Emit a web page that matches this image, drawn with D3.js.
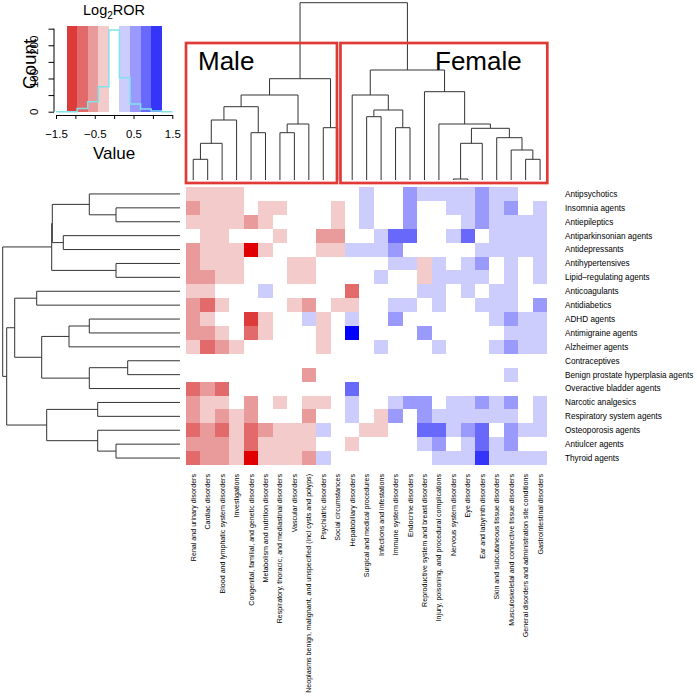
<!DOCTYPE html>
<html>
<head>
<meta charset="utf-8">
<script src="https://cdn.jsdelivr.net/npm/d3@7"></script>
<style>
  body { margin: 0; background: #fff; }
  svg { display: block; }
  text { font-family: "Liberation Sans", Arial, Helvetica, sans-serif; fill: #000; }
</style>
</head>
<body>
<div id="chart"></div>
<script>
// rows (drug classes) in dendrogram order
const rowLabels = [
  "Antipsychotics", "Insomnia agents", "Antiepileptics", "Antiparkinsonian agents",
  "Antidepressants", "Antihypertensives", "Lipid\u2013regulating agents", "Anticoagulants",
  "Antidiabetics", "ADHD agents", "Antimigraine agents", "Alzheimer agents",
  "Contraceptives", "Benign prostate hyperplasia agents", "Overactive bladder agents",
  "Narcotic analgesics", "Respiratory system agents", "Osteoporosis agents",
  "Antiulcer agents", "Thyroid agents"
];

// columns (adverse event SOCs) in dendrogram order
const colLabels = [
  "Renal and urinary disorders", "Cardiac disorders", "Blood and lymphatic system disorders",
  "Investigations", "Congenital, familial, and genetic disorders",
  "Metabolism and nutrition disorders", "Respiratory, thoracic, and mediastinal disorders",
  "Vascular disorders", "Neoplasms benign, malignant, and unspecified (incl cysts and polyps)",
  "Psychiatric disorders", "Social circumstances", "Hepatobiliary disorders",
  "Surgical and medical procedures", "Infections and infestations", "Immune system disorders",
  "Endocrine disorders", "Reproductive system and breast disorders",
  "Injury, poisoning, and procedural complications", "Nervous system disorders",
  "Eye disorders", "Ear and labyrinth disorders", "Skin and subcutaneous tissue disorders",
  "Musculoskeletal and connective tissue disorders",
  "General disorders and administration site conditions", "Gastrointestinal disorders"
];

// log2 ROR, one array per row
const ror = [
  [-0.3,-0.3,-0.3,-0.3,0,0,0,0,0,0,0,0,0.3, 0,0,0.55,0.3,0.3,0.3,0.3,0.55,0.3,0.3,0,0],
  [-0.55,-0.3,-0.3,-0.3,0,-0.3,-0.3,0,0,0,-0.3,0,0.3, 0,0,0.55,0,0,0.3,0.3,0.55,0.3,0.55,0,0.3],
  [-0.3,-0.3,-0.3,-0.3,-0.55,-0.3,0,0,0,0,-0.3,0,0.3, 0,0,0.55,0,0,0,0.3,0.55,0.3,0.3,0.3,0.3],
  [0,-0.3,-0.3,0,0,0,-0.3,0,0,-0.55,-0.55,0,0, 0.3,0.8,0.8,0,0,0.3,0.8,0,0.3,0.3,0.3,0.3],
  [-0.55,-0.3,-0.3,-0.3,-1.4,-0.3,0,0,0,-0.3,-0.3,0.3,0.3, 0.3,0.55,0,0,0,0,0,0.3,0.3,0.3,0.3,0.3],
  [-0.55,-0.3,-0.3,-0.3,0,0,0,-0.3,-0.3,0,0,0,0, 0,0.3,0.3,-0.3,0.3,0,0.3,0.55,0,0.3,0,0.3],
  [-0.55,-0.55,-0.3,-0.3,0,0,0,-0.3,-0.3,0,0,0,0, 0.3,0,0,-0.3,0.3,0.3,0.3,0.3,0,0.3,0,0.3],
  [-0.3,-0.3,0,0,0,0.3,0,0,0,0,0,-0.8,0, 0,0,0,0.3,0.3,0,0.3,0,0.3,0.3,0,0],
  [-0.55,-0.8,-0.3,0,0,0,0,-0.3,-0.55,0,-0.3,-0.3,0, 0,0.3,0.3,0,0.3,0,0,0.3,0.3,0.3,0,0.55],
  [-0.55,-0.3,0,0,-1.1,-0.3,0,0,0.3,-0.3,0,0.3,0, 0,0.55,0,0,0,0,0,0,0.3,0.55,0.3,0.3],
  [-0.55,-0.55,-0.3,0,-0.8,-0.3,0,0,0,-0.3,0,1.4,0, 0,0,0,0.55,0,0,0,0,0,0.3,0.3,0.3],
  [-0.3,-0.8,-0.55,-0.3,0,0,0,0,0,-0.3,0,0,0, 0.3,0,0,0,0.3,0,0,0,0.3,0.55,0.3,0.3],
  [0,0,0,0,0,0,0,0,0,0,0,0,0, 0,0,0,0,0,0,0,0,0,0,0,0],
  [0,0,0,0,0,0,0,0,-0.55,0,0,0,0, 0,0,0,0,0,0,0,0,0,0.3,0,0],
  [-0.8,-0.55,-0.8,0,0,0,0,0,0,0,0,0.8,0, 0,0,0,0,0,0,0,0,0,0,0,0],
  [-0.55,-0.3,-0.3,0,-0.55,0,-0.3,0,-0.3,-0.3,0,0.3,0, 0,0.3,0.55,0.55,0,0.3,0.3,0.55,0.3,0.55,0,0.3],
  [-0.55,-0.3,-0.55,-0.3,-0.55,0,0,0,-0.55,0,0,0.3,0, -0.3,0.55,0,0.55,0.3,0.3,0.3,0.3,0.3,0.3,0,0.3],
  [-0.8,-0.55,-0.8,-0.3,-0.8,-0.55,-0.3,-0.3,-0.3,0.3,0,0,-0.3, -0.3,0,0,0.8,0.8,0.3,0.55,0.8,0,0.55,0.3,0.3],
  [-0.55,-0.55,-0.55,-0.3,-0.8,-0.3,-0.3,-0.3,-0.3,0,0,-0.3,0, 0,0,0,0.3,0.55,0,0.3,0.8,0.3,0.55,0,0],
  [-0.8,-0.55,-0.55,-0.3,-1.4,-0.3,-0.3,-0.3,-0.55,0.3,0,0,0, 0,0,0,0,0.3,0.3,0.3,1.1,0.3,0.3,0.3,0.3]
];

// hclust style merges: [a, b, height], negative = leaf (1-based), positive = earlier merge
const rowMerges = [
  [-2,-3,0.64], [-1,1,0.907], [-4,-5,1.167], [2,3,1.277], [-6,-7,0.64], [4,5,1.283],
  [-8,-9,1.433], [-10,-11,0.907], [8,-12,1.11], [-13,-14,0.523], [10,-15,0.907],
  [9,11,1.383], [7,12,1.653], [-16,-17,0.823], [-19,-20,0.64], [-18,15,0.823],
  [14,16,1.333], [13,17,1.733], [6,18,1.773]
];
const colMerges = [
  [-1,-2,0.207], [1,-3,0.367], [2,-4,0.60], [-5,-6,0.473], [3,4,0.733], [-7,-8,0.473],
  [6,-9,0.56], [5,7,0.85], [-10,-11,0.523], [8,9,1.013], [-13,-14,0.633], [-15,-16,0.523],
  [11,12,0.70], [-12,13,0.85], [-19,-20,0.01], [15,-21,0.367], [-24,-25,0.207],
  [-23,17,0.30], [-22,18,0.423], [16,19,0.517], [-18,20,0.56], [-17,21,0.883],
  [14,22,1.10], [10,23,1.773]
];

// colour key
const keyBreaks = [-1.5,-1.227,-0.955,-0.682,-0.409,-0.136,0.136,0.409,0.682,0.955,1.227,1.5];
const keyColors = ["#ffffff","#dd3a3a","#e26a6a","#e99a9a","#f3cbcb","#ffffff",
                   "#cdcdfd","#9a9afc","#6868fb","#3535f9","#ffffff"];
const histCounts = [0,0,10,30,75,246,102,23,8,2,0];
const cellColors = ["#e00000","#dd3a3a","#e26a6a","#e99a9a","#f3cbcb","#ffffff",
                    "#cdcdfd","#9a9afc","#6868fb","#3535f9","#0000ff"];

const W = 697, H = 697;
const svg = d3.select("#chart").append("svg").attr("width", W).attr("height", H);

const x = d3.scaleBand().domain(d3.range(colLabels.length)).range([186, 547.3]);
const y = d3.scaleBand().domain(d3.range(rowLabels.length)).range([187, 465]);
const color = d3.scaleThreshold().domain(keyBreaks.slice(1, -1)).range(cellColors);

// heatmap cells
svg.append("g")
  .selectAll("g")
  .data(ror)
  .join("g")
  .selectAll("rect")
  .data((row, i) => row.map((v, j) => ({i, j, v})))
  .join("rect")
    .attr("x", d => x(d.j))
    .attr("y", d => y(d.i))
    .attr("width", x.bandwidth())
    .attr("height", y.bandwidth())
    .attr("fill", d => color(d.v))
    .attr("shape-rendering", "crispEdges");

// row labels
svg.append("g")
  .selectAll("text")
  .data(rowLabels)
  .join("text")
    .attr("x", 565)
    .attr("y", (d, i) => y(i) + y.bandwidth() / 2)
    .attr("dy", "0.35em")
    .style("font-size", "8.2px")
    .text(d => d);

// column labels
svg.append("g")
  .selectAll("text")
  .data(colLabels)
  .join("text")
    .attr("transform", (d, i) => `translate(${x(i) + x.bandwidth() / 2},474) rotate(-90)`)
    .attr("text-anchor", "end")
    .attr("dy", "0.35em")
    .style("font-size", "7.1px")
    .text(d => d);

// dendrogram segments: [pos1, h1, pos2, h2]
function dendroSegments(merges, pos) {
  const nodes = [];
  const segs = [];
  const get = k => k < 0 ? {p: pos(-k - 1), h: 0} : nodes[k - 1];
  merges.forEach(([a, b, h]) => {
    const A = get(a), B = get(b);
    segs.push([A.p, A.h, A.p, h], [B.p, B.h, B.p, h], [A.p, h, B.p, h]);
    nodes.push({p: (A.p + B.p) / 2, h});
  });
  return segs;
}

const hMax = 1.773;
const colH = d3.scaleLinear().domain([0, hMax]).range([180, 2.7]);
const rowH = d3.scaleLinear().domain([0, hMax]).range([180, 2.7]);

svg.append("g")
  .selectAll("line")
  .data(dendroSegments(colMerges, j => x(j) + x.bandwidth() / 2))
  .join("line")
    .attr("x1", d => d[0]).attr("y1", d => colH(d[1]))
    .attr("x2", d => d[2]).attr("y2", d => colH(d[3]))
    .attr("stroke", "#333").attr("stroke-width", 1);

svg.append("g")
  .selectAll("line")
  .data(dendroSegments(rowMerges, i => y(i) + y.bandwidth() / 2))
  .join("line")
    .attr("x1", d => rowH(d[1])).attr("y1", d => d[0])
    .attr("x2", d => rowH(d[3])).attr("y2", d => d[2])
    .attr("stroke", "#333").attr("stroke-width", 1);

// Male / Female boxes
const boxes = [
  {label: "Male", x0: x(0), x1: x(11) - 8, tx: 198},
  {label: "Female", x0: x(11) - 4.5, x1: x(24) + x.bandwidth(), tx: 435}
];
svg.append("g")
  .selectAll("rect")
  .data(boxes)
  .join("rect")
    .attr("x", d => d.x0)
    .attr("y", 43)
    .attr("width", d => d.x1 - d.x0)
    .attr("height", 140)
    .attr("fill", "none")
    .attr("stroke", "#e03a36")
    .attr("stroke-width", 2.7);
svg.append("g")
  .selectAll("text")
  .data(boxes)
  .join("text")
    .attr("x", d => d.tx)
    .attr("y", 70)
    .style("font-size", "26px")
    .text(d => d.label);

// colour key with histogram
const kx = d3.scaleLinear().domain([-1.5, 1.5]).range([56, 172.3]);
const ky = d3.scaleLinear().domain([0, 258]).range([111.7, 26]);
const key = svg.append("g");

key.selectAll("rect")
  .data(keyColors)
  .join("rect")
    .attr("x", (d, i) => kx(keyBreaks[i]))
    .attr("y", ky(258))
    .attr("width", (d, i) => kx(keyBreaks[i + 1]) - kx(keyBreaks[i]))
    .attr("height", ky(0) - ky(258))
    .attr("fill", d => d)
    .attr("shape-rendering", "crispEdges");

const histPts = [];
histCounts.forEach((c, i) => { histPts.push([keyBreaks[i], c], [keyBreaks[i + 1], c]); });
key.append("path")
  .attr("d", d3.line().x(d => kx(d[0])).y(d => ky(d[1]))(histPts))
  .attr("fill", "none")
  .attr("stroke", "#7fe3ea")
  .attr("stroke-width", 1.5);

const shown = [-1.5, -0.5, 0.5, 1.5];
key.append("g")
  .attr("transform", "translate(0,115)")
  .call(d3.axisBottom(kx).tickValues([-1.5, -1, -0.5, 0, 0.5, 1, 1.5])
    .tickSize(4).tickSizeOuter(0).tickPadding(11)
    .tickFormat(d => shown.includes(d) ? d3.format(".1f")(d) : ""))
  .call(g => g.selectAll("text").style("font-size", "11.5px").style("font-family", null))
  .call(g => g.selectAll("line,path").attr("stroke", "#000"));

key.append("g")
  .attr("transform", "translate(54,0)")
  .call(d3.axisLeft(ky).tickValues([0, 50, 100, 150, 200, 250]).tickSize(5.5).tickFormat(""))
  .call(g => g.select(".domain").remove());
key.append("line")
  .attr("x1", 54).attr("x2", 54)
  .attr("y1", ky(0)).attr("y2", ky(250))
  .attr("stroke", "#000");
key.selectAll(".ylab")
  .data([0, 100, 200])
  .join("text")
    .attr("class", "ylab")
    .attr("transform", d => `translate(38.3,${ky(d)}) rotate(-90)`)
    .attr("text-anchor", "middle")
    .style("font-size", "11.5px")
    .text(d => d);

key.append("text")
  .attr("transform", "translate(36,64) rotate(-90)")
  .attr("text-anchor", "middle")
  .style("font-size", "19px")
  .text("Count");

key.append("text")
  .attr("x", 114).attr("y", 159)
  .attr("text-anchor", "middle")
  .style("font-size", "17px")
  .text("Value");

const title = key.append("text")
  .attr("x", 114).attr("y", 15)
  .attr("text-anchor", "middle")
  .style("font-size", "14.5px");
title.append("tspan").text("Log");
title.append("tspan").attr("dy", 3.5).style("font-size", "10px").text("2");
title.append("tspan").attr("dy", -3.5).text("ROR");
</script>
</body>
</html>
